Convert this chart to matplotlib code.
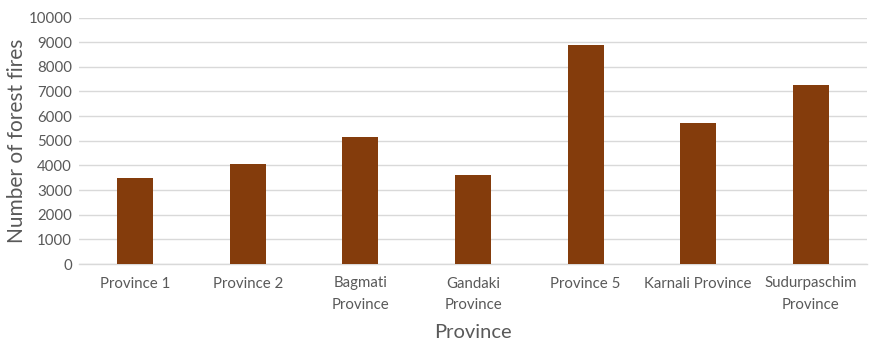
import numpy as np
import matplotlib.pyplot as plt

provinces = ['Province 1', 'Province 2', 'Bagmati\nProvince', 'Gandaki\nProvince',
             'Province 5', 'Karnali Province', 'Sudurpaschim\nProvince']
fires = [3470, 4075, 5170, 3600, 8900, 5740, 7280]
yticks = list(range(0, 10001, 1000))

plt.rcParams['font.family'] = ['Lato', 'DejaVu Sans']

fig = plt.figure(figsize=(8.69, 3.42), dpi=100)
ax = fig.add_axes([79 / 869, (342 - 264) / 342, (867 - 79) / 869, (264 - 17.5) / 342])

x = np.arange(len(provinces))
ax.bar(x, fires, width=0.32, color='#843C0C', zorder=3)

ax.set_xlim(-0.5, len(provinces) - 0.5)
ax.set_ylim(0, 10000)
ax.set_yticks(yticks)
ax.set_xticks(x)
ax.set_xticklabels(provinces, linespacing=1.7)
ax.grid(axis='y', color='#d9d9d9', linewidth=1, zorder=0)

for side in ['left', 'right', 'top']:
    ax.spines[side].set_visible(False)
ax.spines['bottom'].set_color('#d9d9d9')
ax.spines['bottom'].set_linewidth(1)

ax.tick_params(axis='both', length=0, labelsize=10.8, colors='#595959')
ax.tick_params(axis='x', pad=9)
ax.tick_params(axis='y', pad=5)

ax.set_ylabel('Number of forest fires', fontsize=15, color='#595959', labelpad=1)
ax.set_xlabel('Province', fontsize=14.5, color='#595959', labelpad=8.5)

fig.savefig('out.png', dpi=100)
